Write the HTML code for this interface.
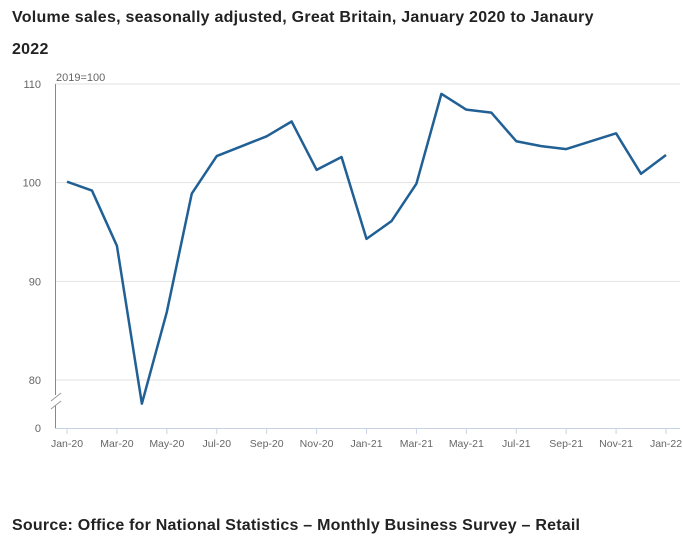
<!DOCTYPE html>
<html><head><meta charset="utf-8"><style>
body{margin:0;width:683px;height:542px;background:#fff;font-family:"Liberation Sans",sans-serif;overflow:hidden}
.t{position:absolute;left:12px;top:2px;font-size:16px;font-weight:bold;color:#222;line-height:32px;width:610px;letter-spacing:0.25px}
.s{position:absolute;left:12px;top:517px;font-size:16px;font-weight:bold;color:#222;letter-spacing:0.22px}
svg{position:absolute;left:0;top:0}
text{font-family:"Liberation Sans",sans-serif;fill:#666}
</style></head><body>
<div class="t">Volume sales, seasonally adjusted, Great Britain, January 2020 to Janaury 2022</div>
<svg width="683" height="542" id="c"></svg>
<div class="s">Source: Office for National Statistics – Monthly Business Survey – Retail</div>
<script>
const months=["Jan-20","Feb-20","Mar-20","Apr-20","May-20","Jun-20","Jul-20","Aug-20","Sep-20","Oct-20","Nov-20","Dec-20","Jan-21","Feb-21","Mar-21","Apr-21","May-21","Jun-21","Jul-21","Aug-21","Sep-21","Oct-21","Nov-21","Dec-21","Jan-22"];
const values=[100.1,99.2,93.6,77.6,86.9,98.9,102.7,103.7,104.7,106.2,101.3,102.6,94.3,96.1,99.9,109.0,107.4,107.1,104.2,103.7,103.4,104.2,105.0,100.9,102.8];
const yTicks=[80,90,100,110];
const NS="http://www.w3.org/2000/svg",svg=document.getElementById('c');
const x=i=>67+i*(666-67)/24;
const y=v=>380-(v-80)*(380-84)/30;
function el(t,a){const e=document.createElementNS(NS,t);for(const k in a)e.setAttribute(k,a[k]);svg.appendChild(e);return e;}
yTicks.forEach(v=>{
 const g=el('line',{x1:55,x2:680,y1:y(v),y2:y(v),stroke:'#e2e2e2'});
 
 
 const t=el('text',{x:41,y:y(v)+4,'text-anchor':'end','font-size':11});t.textContent=v;
 
 
});
const z=el('text',{x:41,y:432,'text-anchor':'end','font-size':11});z.textContent='0';


const u=el('text',{x:56,y:81,'font-size':11});u.textContent='2019=100';


const ya=el('line',{x1:55.5,x2:55.5,y1:84,y2:428,stroke:'#888'});


el('rect',{x:50,y:395,width:10,height:10,fill:'#fff'});
el('line',{x1:51,x2:61,y1:401,y2:393,stroke:'#999'});
el('line',{x1:51,x2:61,y1:409,y2:401,stroke:'#999'});
const xa=el('line',{x1:55,x2:680,y1:428.5,y2:428.5,stroke:'#c8d4e6'});


months.forEach((m,i)=>{if(i%2)return;
 el('line',{x1:x(i),x2:x(i),y1:429,y2:434,stroke:'#c8d4e6'});
 const t=el('text',{x:x(i),y:447,'text-anchor':'middle','font-size':10.5});t.textContent=m;
 
 
});
const p=el('path',{d:values.map((v,i)=>(i?'L':'M')+x(i)+' '+y(v)).join(''),fill:'none',stroke:'#206095',"stroke-width":2.5,"stroke-linejoin":"round"});


</script>
</body></html>
